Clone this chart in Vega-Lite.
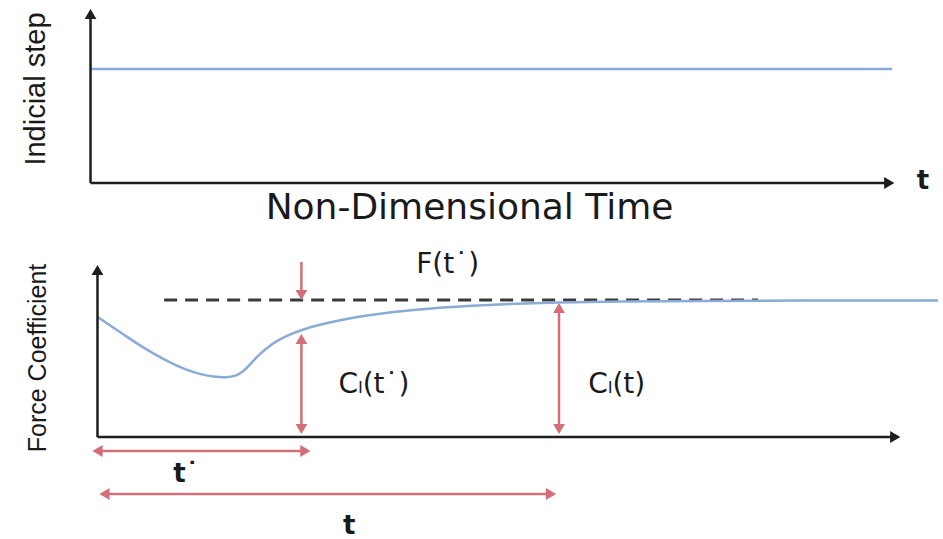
{
  "$schema": "https://vega.github.io/schema/vega-lite/v6.json",
  "width": 943,
  "height": 539,
  "padding": 0,
  "autosize": {"type": "fit", "contains": "padding"},
  "background": "white",
  "config": {"view": {"stroke": null}},
  "datasets": {
    "segments": [
      {"group": "axis", "x": 91, "y": 14, "x2": 91, "y2": 183},
      {"group": "axis", "x": 91, "y": 183, "x2": 892, "y2": 183},
      {"group": "axis", "x": 98, "y": 270, "x2": 98, "y2": 437},
      {"group": "axis", "x": 98, "y": 437, "x2": 898, "y2": 437},
      {"group": "red", "x": 303, "y": 262, "x2": 303, "y2": 294},
      {"group": "red", "x": 303, "y": 340, "x2": 303, "y2": 428},
      {"group": "red", "x": 562, "y": 309, "x2": 562, "y2": 428},
      {"group": "red", "x": 99, "y": 451, "x2": 306, "y2": 451},
      {"group": "red", "x": 106, "y": 494, "x2": 553, "y2": 494}
    ],
    "heads": [
      {"group": "axis", "dir": "up", "x": 91, "y": 14},
      {"group": "axis", "dir": "right", "x": 894, "y": 183},
      {"group": "axis", "dir": "up", "x": 98, "y": 270},
      {"group": "axis", "dir": "right", "x": 900, "y": 437},
      {"group": "red", "dir": "down", "x": 303, "y": 295},
      {"group": "red", "dir": "up", "x": 303, "y": 339},
      {"group": "red", "dir": "down", "x": 303, "y": 429},
      {"group": "red", "dir": "up", "x": 562, "y": 308},
      {"group": "red", "dir": "down", "x": 562, "y": 429},
      {"group": "red", "dir": "left", "x": 98, "y": 451},
      {"group": "red", "dir": "right", "x": 307, "y": 451},
      {"group": "red", "dir": "left", "x": 105, "y": 494},
      {"group": "red", "dir": "right", "x": 554, "y": 494}
    ],
    "step": [
      {"x": 91, "y": 69, "x2": 897, "y2": 69}
    ],
    "dashed": [
      {"x": 165, "y": 300, "x2": 762, "y2": 300}
    ],
    "curve": [
      {"x": 98, "y": 317},
      {"x": 110, "y": 325},
      {"x": 125, "y": 335},
      {"x": 140, "y": 345},
      {"x": 155, "y": 354},
      {"x": 170, "y": 362},
      {"x": 185, "y": 369},
      {"x": 200, "y": 374},
      {"x": 215, "y": 377},
      {"x": 228, "y": 377.5},
      {"x": 237, "y": 376},
      {"x": 244, "y": 372},
      {"x": 251, "y": 365},
      {"x": 259, "y": 356},
      {"x": 268, "y": 348},
      {"x": 278, "y": 341},
      {"x": 290, "y": 335},
      {"x": 303, "y": 330},
      {"x": 320, "y": 325},
      {"x": 340, "y": 320.5},
      {"x": 365, "y": 316},
      {"x": 395, "y": 312},
      {"x": 430, "y": 308.5},
      {"x": 470, "y": 306},
      {"x": 510, "y": 304},
      {"x": 560, "y": 302.5},
      {"x": 620, "y": 301.5},
      {"x": 700, "y": 301},
      {"x": 800, "y": 300.5},
      {"x": 943, "y": 300.5}
    ],
    "bigText": [
      {"label": "Non-Dimensional Time", "x": 472, "y": 208}
    ],
    "vText": [
      {"label": "Indicial step", "x": 36, "y": 89, "size": "a"},
      {"label": "Force Coefficient", "x": 38, "y": 358, "size": "b"}
    ],
    "labels": [
      {"label": "F(t˙)", "x": 450, "y": 265},
      {"label": "Cₗ(t˙)", "x": 376, "y": 385},
      {"label": "Cₗ(t)", "x": 620, "y": 385}
    ],
    "tLabels": [
      {"label": "t", "x": 928, "y": 181},
      {"label": "t˙", "x": 187, "y": 474},
      {"label": "t", "x": 351, "y": 526}
    ]
  },
  "encoding": {
    "x": {"field": "x", "type": "quantitative", "scale": {"domain": [0, 943], "nice": false, "zero": false}, "axis": null},
    "y": {"field": "y", "type": "quantitative", "scale": {"domain": [0, 539], "nice": false, "zero": false, "reverse": true}, "axis": null}
  },
  "layer": [
    {
      "data": {"name": "step"},
      "mark": {"type": "rule", "color": "#8aabd6", "strokeWidth": 2.5},
      "encoding": {"x2": {"field": "x2"}, "y2": {"field": "y2"}}
    },
    {
      "data": {"name": "dashed"},
      "mark": {"type": "rule", "color": "#3a3a3a", "strokeWidth": 3, "strokeDash": [13, 8]},
      "encoding": {"x2": {"field": "x2"}, "y2": {"field": "y2"}}
    },
    {
      "data": {"name": "curve"},
      "mark": {"type": "line", "color": "#8aabd6", "strokeWidth": 2.5, "interpolate": "basis"},
      "encoding": {}
    },
    {
      "data": {"name": "segments"},
      "mark": {"type": "rule", "strokeWidth": 2.5},
      "encoding": {
        "x2": {"field": "x2"},
        "y2": {"field": "y2"},
        "color": {"field": "group", "type": "nominal", "scale": {"domain": ["axis", "red"], "range": ["#1e1e1e", "#d46f78"]}, "legend": null},
        "strokeWidth": {"field": "group", "type": "nominal", "scale": {"domain": ["axis", "red"], "range": [3.5, 2.5]}, "legend": null}
      }
    },
    {
      "data": {"name": "heads"},
      "mark": {"type": "point", "filled": true, "opacity": 1, "size": 140},
      "encoding": {
        "shape": {"field": "dir", "type": "nominal", "scale": {"domain": ["up", "down", "left", "right"], "range": ["triangle-up", "triangle-down", "triangle-left", "triangle-right"]}, "legend": null},
        "color": {"field": "group", "type": "nominal", "scale": {"domain": ["axis", "red"], "range": ["#1e1e1e", "#d46f78"]}, "legend": null}
      }
    },
    {
      "data": {"name": "bigText"},
      "mark": {"type": "text", "font": "DejaVu Sans", "fontSize": 36, "color": "#1a1a1a", "align": "center", "baseline": "middle"},
      "encoding": {"text": {"field": "label"}}
    },
    {
      "data": {"name": "vText"},
      "mark": {"type": "text", "font": "Liberation Sans", "angle": 270, "color": "#1a1a1a", "align": "center", "baseline": "middle"},
      "encoding": {
        "text": {"field": "label"},
        "size": {"field": "size", "type": "nominal", "scale": {"domain": ["a", "b"], "range": [29, 25]}, "legend": null}
      }
    },
    {
      "data": {"name": "labels"},
      "mark": {"type": "text", "font": "DejaVu Sans", "fontSize": 28, "color": "#1a1a1a", "align": "center", "baseline": "middle"},
      "encoding": {"text": {"field": "label"}}
    },
    {
      "data": {"name": "tLabels"},
      "mark": {"type": "text", "font": "DejaVu Sans", "fontSize": 26, "fontWeight": "bold", "color": "#1a1a1a", "align": "center", "baseline": "middle"},
      "encoding": {"text": {"field": "label"}}
    }
  ]
}
